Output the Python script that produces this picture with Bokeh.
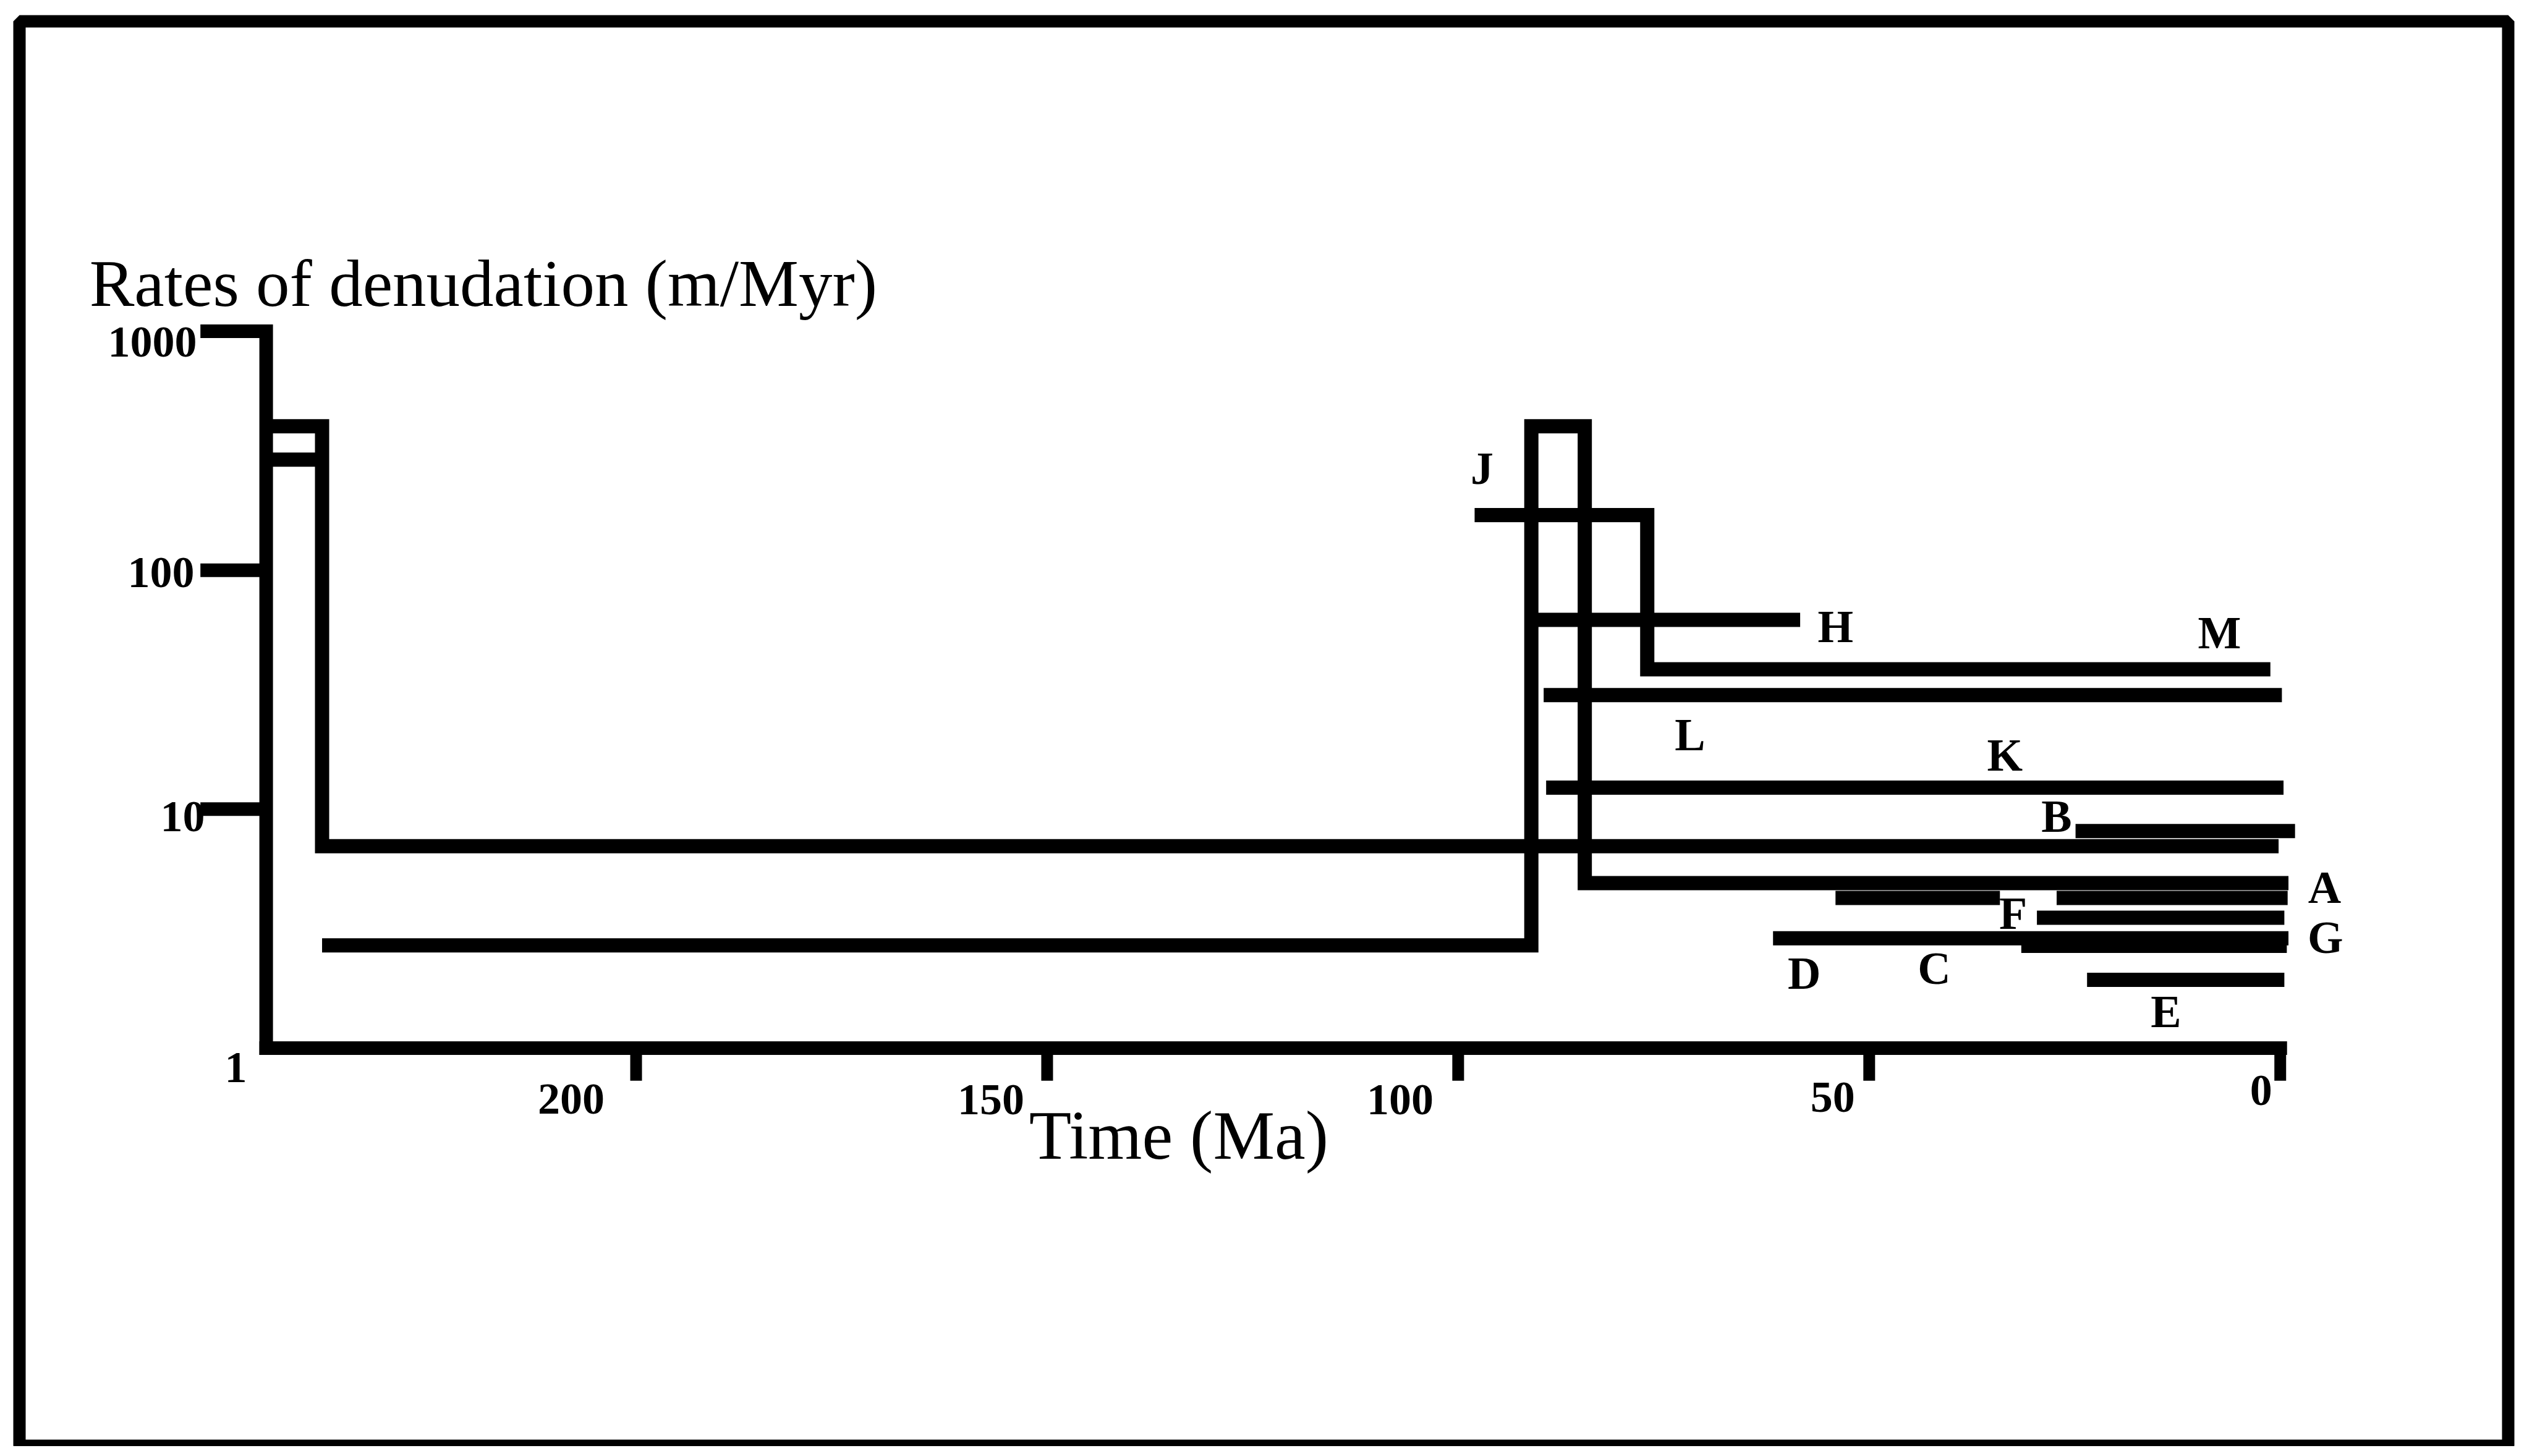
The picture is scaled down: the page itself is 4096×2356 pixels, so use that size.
from bokeh.plotting import figure
from bokeh.models import Range1d, ColumnDataSource
from bokeh.core.properties import value
from bokeh.embed import file_html
from bokeh.resources import INLINE

# ---------------- data ----------------
# axes
x_ticks = [200, 150, 100, 50, 0]
x_tick_labels = ["200", "150", "100", "50", "0"]
y_ticks = [1000, 100, 10, 1]
y_tick_labels = ["1000", "100", "10", "1"]
time_axis_start = 245.0      # Ma, where the rate axis stands
time_axis_end = 0.0          # Ma
rate_axis_min = 1            # m/Myr
rate_axis_max = 1000         # m/Myr

# step records: time (Ma) and denudation rate (m/Myr)
rec400_t = [245.0, 238.2, 238.2, 0.2]
rec400_r = [400, 400, 7.0, 7.0]
rec300_t = [245.0, 238.2]
rec300_r = [290, 290]
recA_t = [238.2, 91.1, 91.1, 84.6, 84.6, -1.0]
recA_r = [2.69, 2.69, 400, 400, 4.9, 4.9]
recJM_t = [98.0, 77.0, 77.0, 1.2]
recJM_r = [170, 170, 38.5, 38.5]
recH_t = [90.8, 58.4]
recH_r = [62, 62]
recL_t = [89.6, -0.2]
recL_r = [30, 30]
recK_t = [89.3, -0.4]
recK_r = [12.3, 12.3]
recB_t = [24.9, -1.8]
recB_r = [8.1, 8.1]
recC_t = [54.1, 34.1]
recC_r = [4.25, 4.25]
recF1_t = [27.2, -0.9]
recF1_r = [4.25, 4.25]
recF2_t = [29.6, -0.5]
recF2_r = [3.51, 3.51]
recD_t = [61.7, -1.0]
recD_r = [2.88, 2.88]
recG_t = [31.5, -0.8]
recG_r = [2.68, 2.68]
recE_t = [23.5, -0.5]
recE_r = [1.93, 1.93]

# letter labels
letters = ["J", "H", "M", "L", "K", "B", "A", "F", "G", "D", "C", "E"]
letter_t = [97.1, 54.1, 7.4, 71.8, 33.5, 27.2, -5.4, 32.5, -5.5, 57.9, 42.1, 13.9]
letter_r = [267, 58.2, 54.7, 20.5, 16.8, 9.3, 4.69, 3.66, 2.90, 2.06, 2.16, 1.42]

y_title = "Rates of denudation (m/Myr)"
x_title = "Time (Ma)"

# ---------------- styling (pixels) ----------------
LW = 23
AXW = 22
FONT = value("Liberation Serif")
x_tick_end_rate = 0.73        # bottom end of the time ticks
y_tick_end_time = 253.0       # left end of the rate ticks
x_lab_dx = [-51, -37, -40, -23, -13]
x_lab_dy = [83, 84, 84, 80, 69]
y_lab_dx = [-112, -116, -99, -31]
y_lab_dy = [18, 4, 12, 32]

p = figure(width=4080, height=2340,
           x_range=Range1d(275.01, -27.73),
           y_range=Range1d(0.02153, 19813),
           y_axis_type="log",
           x_axis_location=None, y_axis_location=None,
           toolbar_location=None, output_backend="svg",
           min_border_left=31, min_border_right=23,
           min_border_top=34, min_border_bottom=0)
p.grid.visible = False
p.outline_line_color = "black"
p.outline_line_width = 20
p.background_fill_color = "white"
p.border_fill_color = "white"

# ---- axes drawn through the data scales ----
p.segment(x0=[time_axis_start], y0=[rate_axis_min], x1=[time_axis_start], y1=[rate_axis_max],
          line_color="black", line_width=AXW, line_cap="square")
p.segment(x0=[time_axis_start], y0=[rate_axis_min], x1=[time_axis_end], y1=[rate_axis_min],
          line_color="black", line_width=AXW, line_cap="square")
yt = [v for v in y_ticks if v != rate_axis_min]
p.segment(x0=[time_axis_start] * len(yt), y0=yt, x1=[y_tick_end_time] * len(yt), y1=yt,
          line_color="black", line_width=AXW, line_cap="butt")
p.segment(x0=x_ticks, y0=[rate_axis_min] * len(x_ticks), x1=x_ticks,
          y1=[x_tick_end_rate] * len(x_ticks),
          line_color="black", line_width=AXW - 3, line_cap="butt")

xsrc = ColumnDataSource(dict(x=x_ticks, y=[rate_axis_min] * len(x_ticks),
                             t=x_tick_labels, dx=x_lab_dx, dy=x_lab_dy))
p.text(x="x", y="y", text="t", x_offset="dx", y_offset="dy", source=xsrc,
       text_font=FONT, text_font_size=value("72px"), text_font_style="bold",
       text_color="black", text_align="right", text_baseline="middle")
ysrc = ColumnDataSource(dict(x=[time_axis_start] * len(y_ticks), y=y_ticks,
                             t=y_tick_labels, dx=y_lab_dx, dy=y_lab_dy))
p.text(x="x", y="y", text="t", x_offset="dx", y_offset="dy", source=ysrc,
       text_font=FONT, text_font_size=value("72px"), text_font_style="bold",
       text_color="black", text_align="right", text_baseline="middle")

# ---- records ----
xs = [rec400_t, rec300_t, recA_t, recJM_t, recH_t, recL_t, recK_t, recB_t,
      recC_t, recF1_t, recF2_t, recD_t, recG_t, recE_t]
ys = [rec400_r, rec300_r, recA_r, recJM_r, recH_r, recL_r, recK_r, recB_r,
      recC_r, recF1_r, recF2_r, recD_r, recG_r, recE_r]
p.multi_line(xs=xs, ys=ys, line_color="black", line_width=LW,
             line_join="miter", line_cap="butt")

lsrc = ColumnDataSource(dict(x=letter_t, y=letter_r, t=letters))
p.text(x="x", y="y", text="t", source=lsrc, text_font=FONT,
       text_font_size=value("74px"), text_font_style="bold", text_color="black",
       text_align="center", text_baseline="middle")

# ---- titles ----
p.text(x=[266.5], y=[1589], text=[y_title], text_font=FONT,
       text_font_size=value("109px"), text_color="black",
       text_align="left", text_baseline="alphabetic")
p.text(x=[152.2], y=[0.4306], text=[x_title], text_font=FONT,
       text_font_size=value("112px"), text_color="black",
       text_align="left", text_baseline="alphabetic")

open("out.html", "w").write(file_html(p, INLINE))
